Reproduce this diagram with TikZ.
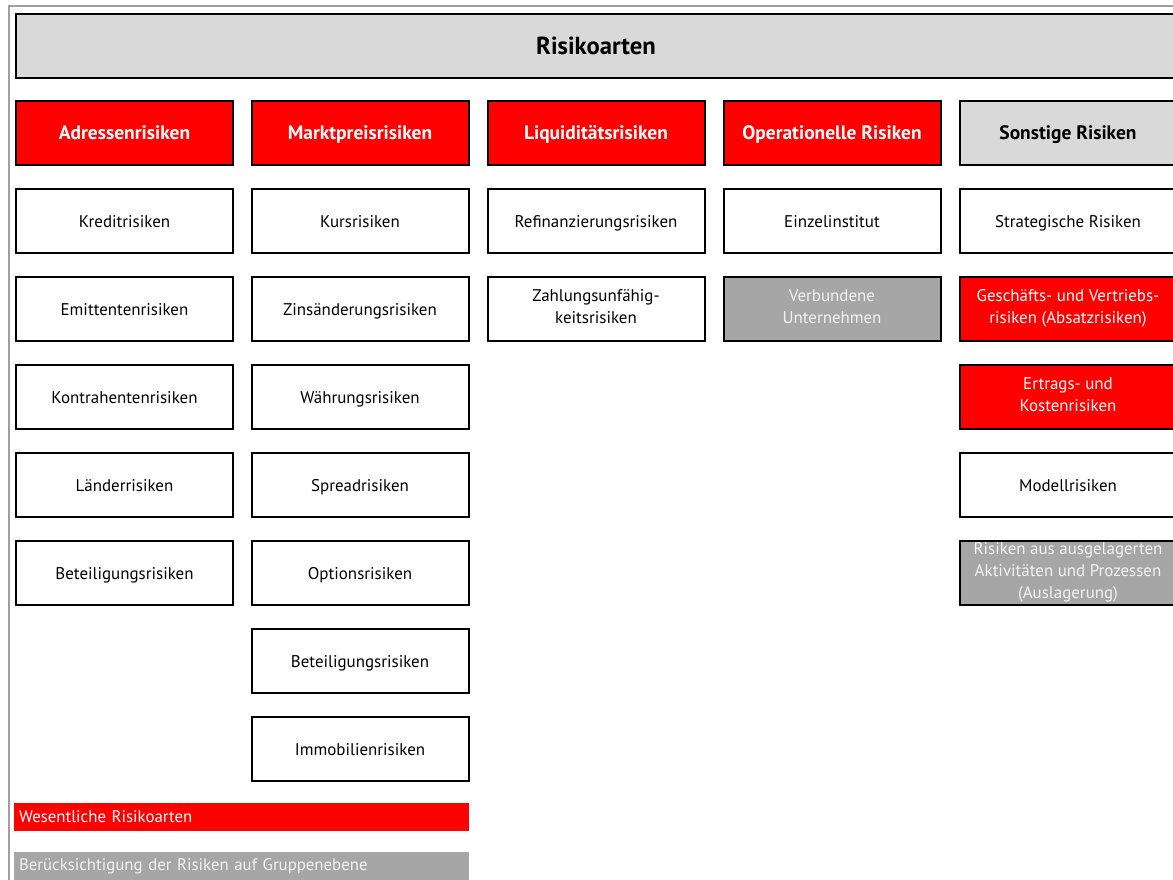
\documentclass[tikz,border=0pt]{standalone}
\usepackage{fontspec}
\setmainfont{PT Sans}
\usetikzlibrary{positioning}
\definecolor{rot}{HTML}{FF0000}
\definecolor{hellgrau}{HTML}{D9D9D9}
\definecolor{mittelgrau}{HTML}{A6A6A6}
\definecolor{rahmen}{HTML}{A0A0A0}
\tikzset{
	stuetze/.style 2 args={execute at begin node={\rule[-#2]{0pt}{#1}}, execute at end node={\rule[-#2]{0pt}{#1}}},
	box/.style={draw=black, line width=1.5pt, fill=white, minimum width=162.75pt, minimum height=48pt, inner sep=1pt, align=center, font=\fontsize{12.7}{16.5}\selectfont, stuetze={16pt}{3.2pt}},
	kopf/.style={box, font=\fontsize{14.6}{17}\selectfont\bfseries, stuetze={17.5pt}{3.6pt}},
	wesentlich/.style={fill=rot, text=white},
	gruppe/.style={fill=mittelgrau, text=white!95!black},
	legende/.style={fill=#1, text=white, minimum width=341.25pt, minimum height=21pt, inner sep=3.5pt, anchor=west, text width=334pt, align=left, font=\fontsize{12.6}{14}\selectfont}
}

\begin{document}
\begin{tikzpicture}[x=0.75pt, y=-0.75pt]
		%%%%% START %%%%%
		\useasboundingbox (0, 0) rectangle (1173, 880);
		\clip (0, 0) rectangle (1173, 880);
		
		\draw[rahmen, line width=1.5pt] (8.5, 890) -- (8.5, 6.5) -- (1190, 6.5);
		
		\node[box, fill=hellgrau, minimum width=870pt, font=\fontsize{18.5}{20}\selectfont\bfseries, stuetze={22pt}{4.5pt}] (titel) at (596, 46) {Risikoarten};
		
		\node[kopf, wesentlich] (adr) at (124.5, 133) {Adressenrisiken};
		\node[kopf, wesentlich] (markt) at (360, 133) {Marktpreisrisiken};
		\node[kopf, wesentlich] (liq) at (596, 133) {Liquiditätsrisiken};
		\node[kopf, wesentlich] (oprisk) at (832, 133) {Operationelle Risiken};
		\node[kopf, fill=hellgrau] (sonst) at (1068, 133) {Sonstige Risiken};
		
		% Adressenrisiken
		\node[box] (kredit) at (124.5, 221) {Kreditrisiken};
		\node[box] (emitt) at (124.5, 309) {Emittentenrisiken};
		\node[box] (kontra) at (124.5, 397) {Kontrahentenrisiken};
		\node[box] (laender) at (124.5, 485) {Länderrisiken};
		\node[box] (beteiladr) at (124.5, 573) {Beteiligungsrisiken};
		
		% Marktpreisrisiken
		\node[box] (kurs) at (360, 221) {Kursrisiken};
		\node[box] (zins) at (360, 309) {Zinsänderungsrisiken};
		\node[box] (waehr) at (360, 397) {Währungsrisiken};
		\node[box] (spread) at (360, 485) {Spreadrisiken};
		\node[box] (option) at (360, 573) {Optionsrisiken};
		\node[box] (beteilmarkt) at (360, 661) {Beteiligungsrisiken};
		\node[box] (immo) at (360, 749) {Immobilienrisiken};
		
		% Liquiditaetsrisiken
		\node[box] (refi) at (596, 221) {Refinanzierungsrisiken};
		\node[box] (zahl) at (596, 309) {Zahlungsunfähig-\\keitsrisiken};
		
		% Operationelle Risiken
		\node[box] (einzel) at (832, 221) {Einzelinstitut};
		\node[box, gruppe] (verbund) at (832, 309) {Verbundene\\Unternehmen};
		
		% Sonstige Risiken
		\node[box] (strat) at (1068, 221) {Strategische Risiken};
		\node[box, wesentlich] (geschaeft) at (1068, 309) {Geschäfts- und Vertriebs-\\risiken (Absatzrisiken)};
		\node[box, wesentlich] (ertrag) at (1068, 397) {Ertrags- und\\Kostenrisiken};
		\node[box] (modell) at (1068, 485) {Modellrisiken};
		\node[box, gruppe] (auslager) at (1068, 573) {Risiken aus ausgelagerten\\Aktivitäten und Prozessen\\(Auslagerung)};
		
		% Legende
		\node[legende=rot] (legrot) at (14, 817) {Wesentliche Risikoarten};
		\node[legende=mittelgrau, text=white!95!black] (leggrau) at (14, 866) {Berücksichtigung der Risiken auf Gruppenebene};
		
		%%%%% END %%%%%
\end{tikzpicture}
\end{document}
